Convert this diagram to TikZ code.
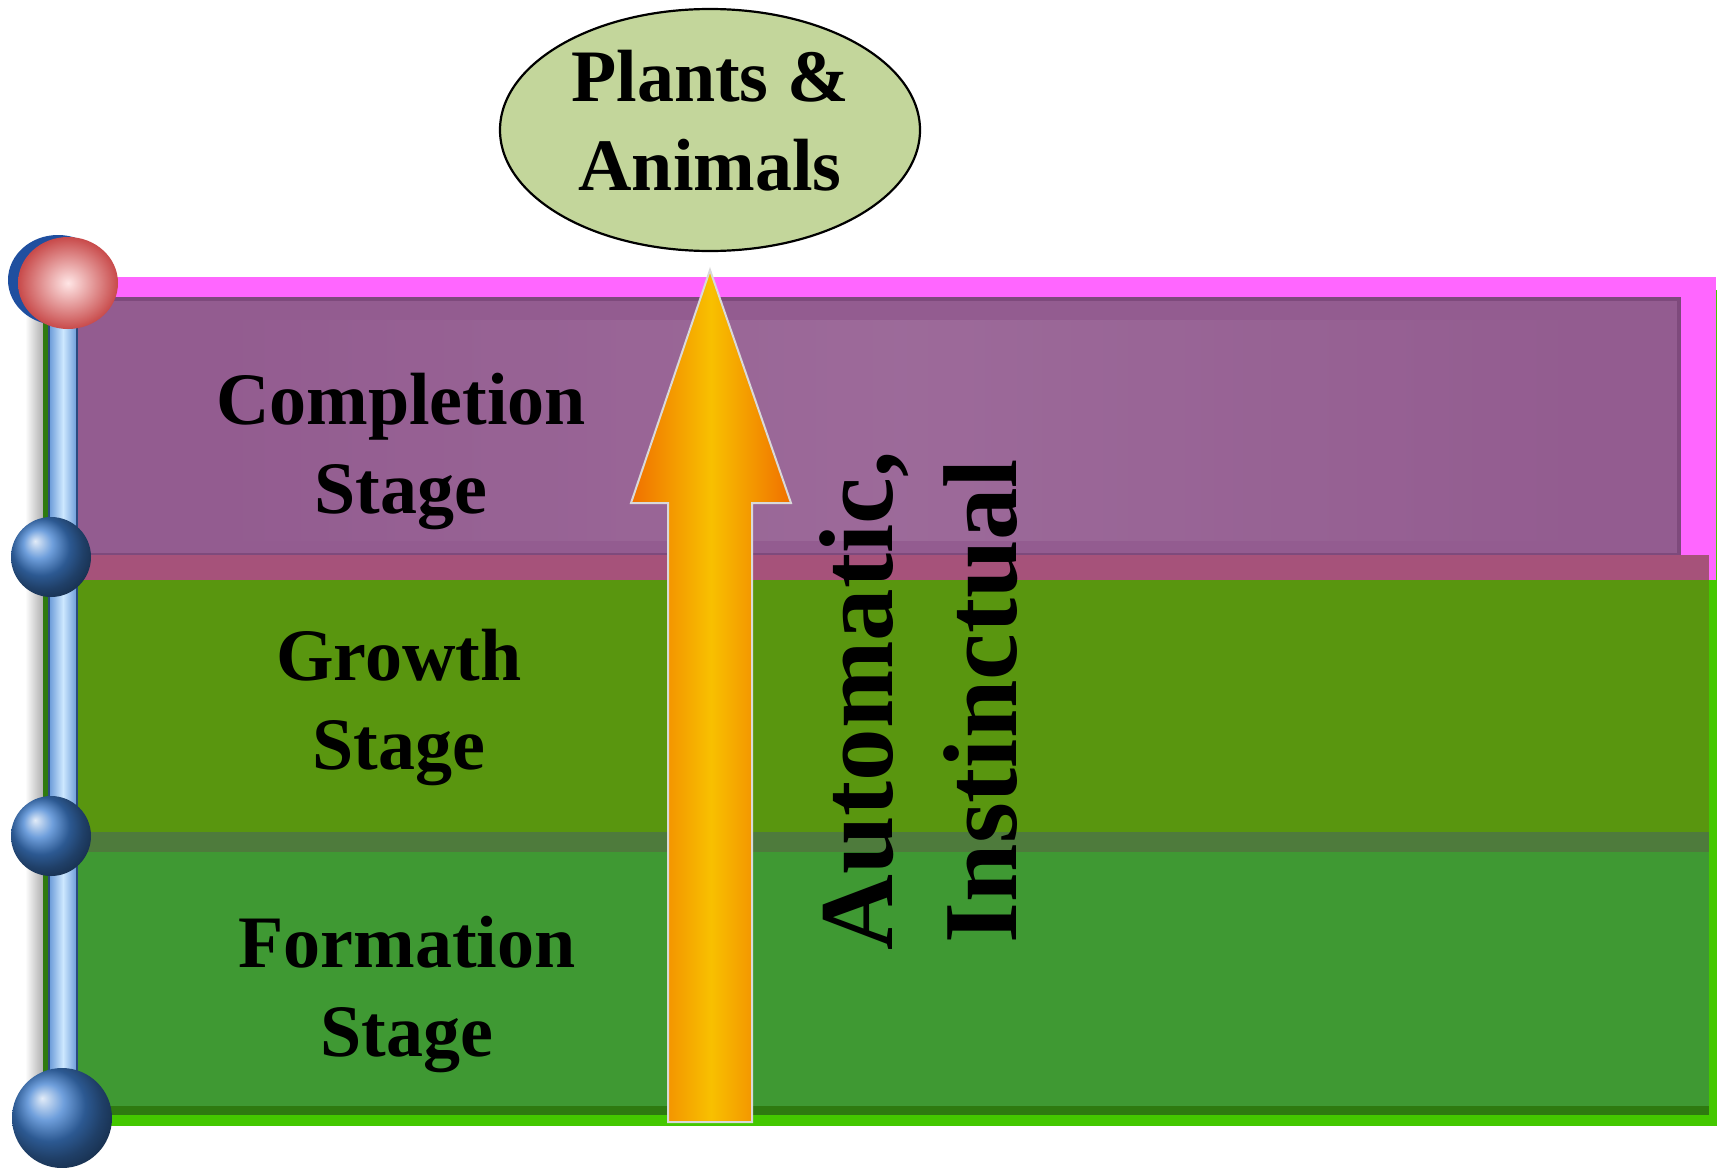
\documentclass[tikz,border=0pt]{standalone}
\usepackage{fontspec}
\setmainfont{Liberation Serif}
\usetikzlibrary{shapes.geometric}
\definecolor{ellfill}{HTML}{C3D69B}
\definecolor{pinkband}{HTML}{FF66FF}
\definecolor{purpleband}{HTML}{935C90}
\definecolor{purpleedge}{HTML}{7E4A7C}
\definecolor{mauve}{HTML}{A6527A}
\definecolor{growthgreen}{HTML}{59960F}
\definecolor{sepgreen}{HTML}{4E7B3C}
\definecolor{formgreen}{HTML}{3F9933}
\definecolor{brightgreen}{HTML}{44C800}
\definecolor{darkgreen}{HTML}{2E7A10}
\definecolor{rodlight}{HTML}{CDE8FF}
\definecolor{rodmid}{HTML}{6A9AD8}
\definecolor{roddark}{HTML}{2A4A80}
\definecolor{ballblue}{HTML}{3F7FD0}
\definecolor{ballback}{HTML}{1F4F9F}
\definecolor{redball}{HTML}{C84A4A}
\definecolor{arrorange}{HTML}{F07000}
\definecolor{arryellow}{HTML}{F8C000}
\tikzset{
  stagetext/.style={align=center, font=\bfseries\fontsize{37}{44.5}\selectfont, text=black},
  sidetext/.style={align=center, rotate=90, font=\bfseries\fontsize{52.5}{62}\selectfont, text=black},
  blueball/.style={shading=ball, ball color=ballblue},
}
\begin{document}
\begin{tikzpicture}[x=0.5pt,y=-0.5pt]
\useasboundingbox (0,0) rectangle (1723,1167);
% soft shadow left of rod
\shade[left color=white, right color=black!35] (25,300) rectangle (45,1110);
% outer bright green frame
\fill[brightgreen] (43,290) rectangle (1717,1126);
\fill[darkgreen] (43,290) rectangle (49,1126);
% pink band
\fill[pinkband] (100,277) rectangle (1716,580);
% purple inner
\fill[purpleband, draw=purpleedge, line width=2pt] (70,299) rectangle (1679,555);
\shade[left color=purpleband, right color=purpleband, middle color=purpleband!85!white, opacity=0.6] (200,320) rectangle (1600,540);
% mauve strip
\fill[mauve] (70,555) rectangle (1709,580);
% growth
\fill[growthgreen] (70,580) rectangle (1709,832);
% separator
\fill[sepgreen] (70,832) rectangle (1709,852);
% formation
\fill[formgreen] (70,852) rectangle (1709,1115);
\fill[darkgreen] (70,1106) rectangle (1709,1115);
% rod
\shade[left color=rodmid, right color=rodmid, middle color=rodlight, draw=roddark, line width=1pt] (49,283) rectangle (77,1118);
% balls
\fill[ballback] (58,280) ellipse [x radius=50, y radius=45];
\shade[inner color=white!90!red, outer color=redball] (68,283) ellipse [x radius=50, y radius=46];
\shade[blueball] (51,557) circle (40);
\shade[blueball] (51,836) circle (40);
\shade[blueball] (62,1118) circle (50);
% arrow
\shade[left color=arrorange, right color=arrorange, middle color=arryellow, draw=white!85!black, line width=1pt]
  (668,1122) -- (668,503) -- (631,503) -- (710,270) -- (791,503) -- (752,503) -- (752,1122) -- cycle;
% ellipse node
\node[ellipse, draw=black, line width=1.1pt, fill=ellfill, minimum width=210pt, minimum height=121pt, inner sep=0pt] (pa) at (710,130) {};
\node[stagetext] (patext) at (710,121) {Plants \&\\Animals};
% stage labels
\node[stagetext] (completion) at (401,451) {Completion\\Stage};
\node[stagetext] (growth) at (399,707) {Growth\\Stage};
\node[stagetext] (formation) at (407,994) {Formation\\Stage};
% rotated label
\node[sidetext] (auto) at (919,701) {Automatic,\\Instinctual};
\end{tikzpicture}
\end{document}
